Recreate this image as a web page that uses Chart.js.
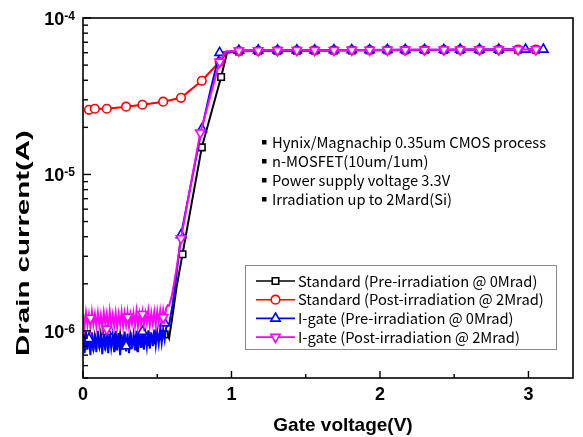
<!DOCTYPE html>
<html><head><meta charset="utf-8">
<script src="https://cdn.jsdelivr.net/npm/chart.js@4/dist/chart.umd.min.js"></script>
<style>html,body{margin:0;padding:0;background:#fff}#wrap{width:583px;height:437px}</style>
</head><body><div id="wrap"><canvas id="c" width="583" height="437"></canvas></div>
<script>
// ---------- DATA ----------
const xTickValues = [0, 1, 2, 3];
const xTickLabels = ['0', '1', '2', '3'];
const yTickValues = [1e-6, 1e-5, 1e-4];
const yTickExps = ['-6', '-5', '-4'];
const xTitle = 'Gate voltage(V)';
const yTitle = 'Drain current(A)';
const seriesNames = [
  'Standard (Pre-irradiation @ 0Mrad)',
  'Standard (Post-irradiation @ 2Mrad)',
  'I-gate (Pre-irradiation @ 0Mrad)',
  'I-gate (Post-irradiation @ 2Mrad)'
];
const notes = [
  'Hynix/Magnachip 0.35um CMOS process',
  'n-MOSFET(10um/1um)',
  'Power supply voltage 3.3V',
  'Irradiation up to 2Mard(Si)'
];

// dense low-voltage sweep (noise floor), currents in units of 1e-7 A
const noiseV = [0.00,0.01,0.02,0.03,0.04,0.05,0.06,0.07,0.08,0.09,
  0.10,0.11,0.12,0.13,0.14,0.15,0.16,0.17,0.18,0.19,
  0.20,0.21,0.22,0.23,0.24,0.25,0.26,0.27,0.28,0.29,
  0.30,0.31,0.32,0.33,0.34,0.35,0.36,0.37,0.38,0.39,
  0.40,0.41,0.42,0.43,0.44,0.45,0.46,0.47,0.48,0.49,
  0.50,0.51,0.52,0.53,0.54,0.55,0.56,0.57];
const stdPreNoise_e7 = [8.6,9.3,7.9,8.8,9.5,8.1,9.0,7.8,9.4,8.5,
  9.1,8.0,9.6,8.3,8.9,7.9,9.2,8.6,9.5,8.2,
  8.8,9.3,8.0,9.1,8.4,9.6,8.1,8.9,9.4,8.3,
  9.0,8.6,9.5,8.2,8.8,9.2,8.0,9.4,8.5,9.1,
  8.3,9.6,8.7,9.0,8.4,9.5,8.8,9.2,8.6,9.7,
  8.9,9.3,9.0,9.8,9.2,9.5,9.3,9.6];
const igPreNoise_e7 = [9.6,7.2,9.9,7.6,9.4,7.0,9.8,7.4,9.5,7.3,
  10.0,7.7,9.3,7.1,9.7,7.5,9.9,7.2,9.6,7.8,
  9.4,7.3,10.0,7.5,9.7,7.0,9.5,7.6,9.9,7.4,
  9.6,7.2,9.8,7.7,9.4,7.5,10.0,7.3,9.7,7.8,
  9.9,7.6,9.5,7.9,10.1,7.7,9.8,8.0,10.2,8.1,
  9.9,8.3,10.3,8.4,10.2,8.8,10.5,10.8];
const igPostNoise_e7 = [12.9,10.6,13.1,10.9,12.7,10.5,13.2,11.0,12.8,10.7,
  13.0,10.8,12.6,10.6,13.1,11.1,12.9,10.5,13.3,10.9,
  12.7,10.8,13.0,10.6,12.8,11.0,13.2,10.7,12.9,10.9,
  13.1,10.6,12.7,11.1,13.0,10.8,13.3,10.7,12.8,11.0,
  13.1,10.9,12.9,11.2,13.4,10.8,13.0,11.1,13.2,11.0,
  13.3,11.3,13.5,11.4,13.6,11.8,14.0,14.6];

// marked points (V, A)
const stdPreMarkV = [0.55,0.67,0.80,0.93,1.05,1.18,1.31,1.44,1.56,1.69,1.81,1.93,2.05,2.17,2.30,2.43,2.54,2.67,2.80,2.93,3.05];
const stdPreMarkI = [9.5e-7,3.09e-6,1.49e-5,4.2e-5,6.12e-5,6.15e-5,6.17e-5,6.18e-5,6.2e-5,6.2e-5,6.21e-5,6.22e-5,6.22e-5,6.23e-5,6.24e-5,6.24e-5,6.25e-5,6.25e-5,6.26e-5,6.27e-5,6.27e-5];
const stdPostMarkV = [0.04,0.08,0.16,0.29,0.40,0.54,0.66,0.80,0.92,1.05,1.18,1.31,1.44,1.56,1.69,1.81,1.93,2.05,2.17,2.30,2.43,2.54,2.67,2.80,2.93,3.05];
const stdPostMarkI = [2.59e-5,2.63e-5,2.63e-5,2.71e-5,2.79e-5,2.92e-5,3.09e-5,3.97e-5,5.25e-5,6.15e-5,6.17e-5,6.19e-5,6.2e-5,6.21e-5,6.22e-5,6.22e-5,6.23e-5,6.24e-5,6.24e-5,6.25e-5,6.25e-5,6.26e-5,6.26e-5,6.27e-5,6.28e-5,6.28e-5];
const igPreMarkV = [0.04,0.16,0.29,0.40,0.55,0.66,0.80,0.92,1.05,1.18,1.31,1.44,1.56,1.69,1.81,1.93,2.05,2.17,2.30,2.43,2.54,2.67,2.80,2.98,3.10];
const igPreMarkI = [8.9e-7,9.9e-7,8.0e-7,9.9e-7,1.12e-6,4.1e-6,1.95e-5,6.0e-5,6.2e-5,6.21e-5,6.22e-5,6.23e-5,6.23e-5,6.24e-5,6.25e-5,6.25e-5,6.26e-5,6.26e-5,6.27e-5,6.27e-5,6.28e-5,6.28e-5,6.29e-5,6.3e-5,6.3e-5];
const igPostMarkV = [0.05,0.16,0.30,0.40,0.54,0.66,0.79,0.92,1.05,1.18,1.31,1.44,1.56,1.69,1.81,1.93,2.05,2.17,2.30,2.43,2.54,2.67,2.80,2.93,3.05];
const igPostMarkI = [1.21e-6,1.03e-6,1.23e-6,1.28e-6,1.22e-6,3.9e-6,1.85e-5,5.25e-5,6.18e-5,6.2e-5,6.21e-5,6.22e-5,6.23e-5,6.23e-5,6.24e-5,6.25e-5,6.25e-5,6.26e-5,6.26e-5,6.27e-5,6.27e-5,6.28e-5,6.28e-5,6.29e-5,6.3e-5];

// extra unmarked points of each curve in the turn-on region (V, A)
const stdPreExtraV = [0.58,0.60,0.63,0.735,0.865,0.97];
const stdPreExtraI = [9.0e-7,1.2e-6,1.9e-6,6.8e-6,2.5e-5,6.0e-5];
const stdPostExtraV = [0.97];
const stdPostExtraI = [6.05e-5];
const igPreExtraV = [0.58,0.60,0.63,0.73,0.86];
const igPreExtraI = [1.1e-6,1.4e-6,2.3e-6,9.0e-6,3.5e-5];
const igPostExtraV = [0.58,0.60,0.63,0.725,0.855,0.96];
const igPostExtraI = [1.45e-6,1.7e-6,2.5e-6,8.5e-6,3.1e-5,6.1e-5];

// ---------- BUILD ----------
function pts(vs, is, scale) { return vs.map((v, i) => ({x: v, y: is[i] * (scale || 1)})); }
function curve(noise, markV, markI, exV, exI) {
  let p = [];
  if (noise) p = pts(noiseV, noise, 1e-7);
  const lastV = noise ? noiseV[noiseV.length - 1] : -1;
  const tail = pts(markV, markI).concat(pts(exV, exI)).filter(q => q.x > lastV);
  return p.concat(tail).sort((a, b) => a.x - b.x);
}
const COLORS = ['#000000', '#ff0000', '#0000ff', '#ff00ff'];
const styles = [
  {pointStyle: 'rect', radius: 4.6, rotation: 0},
  {pointStyle: 'circle', radius: 4.3, rotation: 0},
  {pointStyle: 'triangle', radius: 5.4, rotation: 0},
  {pointStyle: 'triangle', radius: 5.4, rotation: 180}
];
const lineData = [
  curve(stdPreNoise_e7, stdPreMarkV, stdPreMarkI, stdPreExtraV, stdPreExtraI),
  curve(null, stdPostMarkV, stdPostMarkI, stdPostExtraV, stdPostExtraI),
  curve(igPreNoise_e7, igPreMarkV, igPreMarkI, igPreExtraV, igPreExtraI),
  curve(igPostNoise_e7, igPostMarkV, igPostMarkI, igPostExtraV, igPostExtraI)
];
const markData = [
  pts(stdPreMarkV, stdPreMarkI), pts(stdPostMarkV, stdPostMarkI),
  pts(igPreMarkV, igPreMarkI), pts(igPostMarkV, igPostMarkI)
];
const datasets = [];
for (let s = 0; s < 4; s++) {
  datasets.push({
    label: seriesNames[s], data: lineData[s], borderColor: COLORS[s], borderWidth: 2,
    pointRadius: 0, fill: false, tension: 0, order: 8 - 2 * s
  });
  datasets.push({
    label: seriesNames[s] + ' marks', data: markData[s], showLine: false,
    pointStyle: styles[s].pointStyle, pointRadius: styles[s].radius, pointRotation: styles[s].rotation,
    pointBorderColor: COLORS[s], pointBackgroundColor: '#ffffff', pointBorderWidth: 1.6,
    order: 7 - 2 * s
  });
}

const BOLD = 'bold 18px "Liberation Sans", Arial, sans-serif';
const SUP = 'bold 12px "Liberation Sans", Arial, sans-serif';
const KFONT = '"Noto Sans CJK KR", "Noto Sans", sans-serif';

const decor = {
  id: 'decor',
  afterDraw(chart) {
    const ctx = chart.ctx, a = chart.chartArea, xs = chart.scales.x, ys = chart.scales.y;
    ctx.save();
    ctx.strokeStyle = '#000'; ctx.lineWidth = 1.6; ctx.lineCap = 'butt';
    ctx.strokeRect(a.left, a.top, a.right - a.left, a.bottom - a.top);
    const seg = (x1, y1, x2, y2) => { ctx.beginPath(); ctx.moveTo(x1, y1); ctx.lineTo(x2, y2); ctx.stroke(); };
    // x ticks (inward)
    ctx.lineWidth = 1.4;
    for (let v = 0; v <= xs.max; v += 0.5) {
      const px = xs.getPixelForValue(v);
      const major = Math.abs(v - Math.round(v)) < 1e-9;
      seg(px, a.bottom, px, a.bottom - (major ? 7 : 4));
    }
    // y ticks (inward)
    for (let e = -7; e <= -4; e++) {
      for (let m = 1; m <= 9; m++) {
        const v = m * Math.pow(10, e);
        if (v < ys.min * 0.999 || v > ys.max * 1.001) continue;
        const py = ys.getPixelForValue(v);
        seg(a.left, py, a.left + (m === 1 ? 8 : 5), py);
      }
    }
    // x tick labels
    ctx.fillStyle = '#000'; ctx.font = BOLD; ctx.textAlign = 'center'; ctx.textBaseline = 'alphabetic';
    xTickValues.forEach((v, i) => ctx.fillText(xTickLabels[i], xs.getPixelForValue(v), a.bottom + 22));
    // y tick labels 10^n
    yTickValues.forEach((v, i) => {
      const py = ys.getPixelForValue(v);
      ctx.font = SUP; ctx.textAlign = 'left';
      const sw = ctx.measureText(yTickExps[i]).width;
      const supX = a.left - 8 - sw;
      ctx.fillText(yTickExps[i], supX, py + 2);
      ctx.font = BOLD; ctx.textAlign = 'right';
      ctx.fillText('10', supX, py + 7);
    });
    // axis titles
    ctx.font = 'bold 19px "Liberation Sans", Arial, sans-serif'; ctx.textAlign = 'center';
    ctx.fillText(xTitle, 343, 431);
    ctx.save();
    ctx.translate(29, 243); ctx.rotate(-Math.PI / 2); ctx.scale(1.55, 1);
    ctx.fillText(yTitle, 0, 0);
    ctx.restore();
    // notes
    ctx.font = '14.7px ' + KFONT; ctx.textAlign = 'left';
    notes.forEach((t, i) => {
      const y = 148 + i * 19;
      ctx.fillRect(262, y - 8, 4.5, 4.5);
      ctx.fillText(t, 272, y);
    });
    // legend
    const L = {x: 245, y: 265, w: 311, h: 84};
    ctx.fillStyle = '#fff'; ctx.fillRect(L.x, L.y, L.w, L.h);
    ctx.strokeStyle = '#8a8a8a'; ctx.lineWidth = 1; ctx.strokeRect(L.x + 0.5, L.y + 0.5, L.w, L.h);
    for (let s = 0; s < 4; s++) {
      const cy = 281 + s * 18.7;
      ctx.strokeStyle = COLORS[s]; ctx.lineWidth = 1.6;
      seg(256, cy, 295, cy);
      const md = chart.data.datasets[2 * s + 1];
      ctx.fillStyle = '#ffffff'; ctx.strokeStyle = COLORS[s]; ctx.lineWidth = 1.6;
      Chart.helpers.drawPoint(ctx, {pointStyle: md.pointStyle, radius: md.pointRadius, rotation: md.pointRotation, borderWidth: 1.6}, 275.5, cy);
      ctx.fillStyle = '#000'; ctx.font = '14.7px ' + KFONT; ctx.textAlign = 'left';
      ctx.fillText(seriesNames[s], 298, cy + 5.5);
    }
    ctx.restore();
  }
};

new Chart(document.getElementById('c'), {
  type: 'line',
  data: {datasets},
  options: {
    responsive: false, animation: false, devicePixelRatio: 1,
    layout: {padding: {left: 83, right: 10, top: 18, bottom: 59}},
    scales: {
      x: {type: 'linear', min: 0, max: 3.3, display: false},
      y: {type: 'logarithmic', min: 5e-7, max: 1e-4, display: false}
    },
    plugins: {legend: {display: false}, tooltip: {enabled: false}},
    elements: {line: {tension: 0}}
  },
  plugins: [decor]
});
</script></body></html>
